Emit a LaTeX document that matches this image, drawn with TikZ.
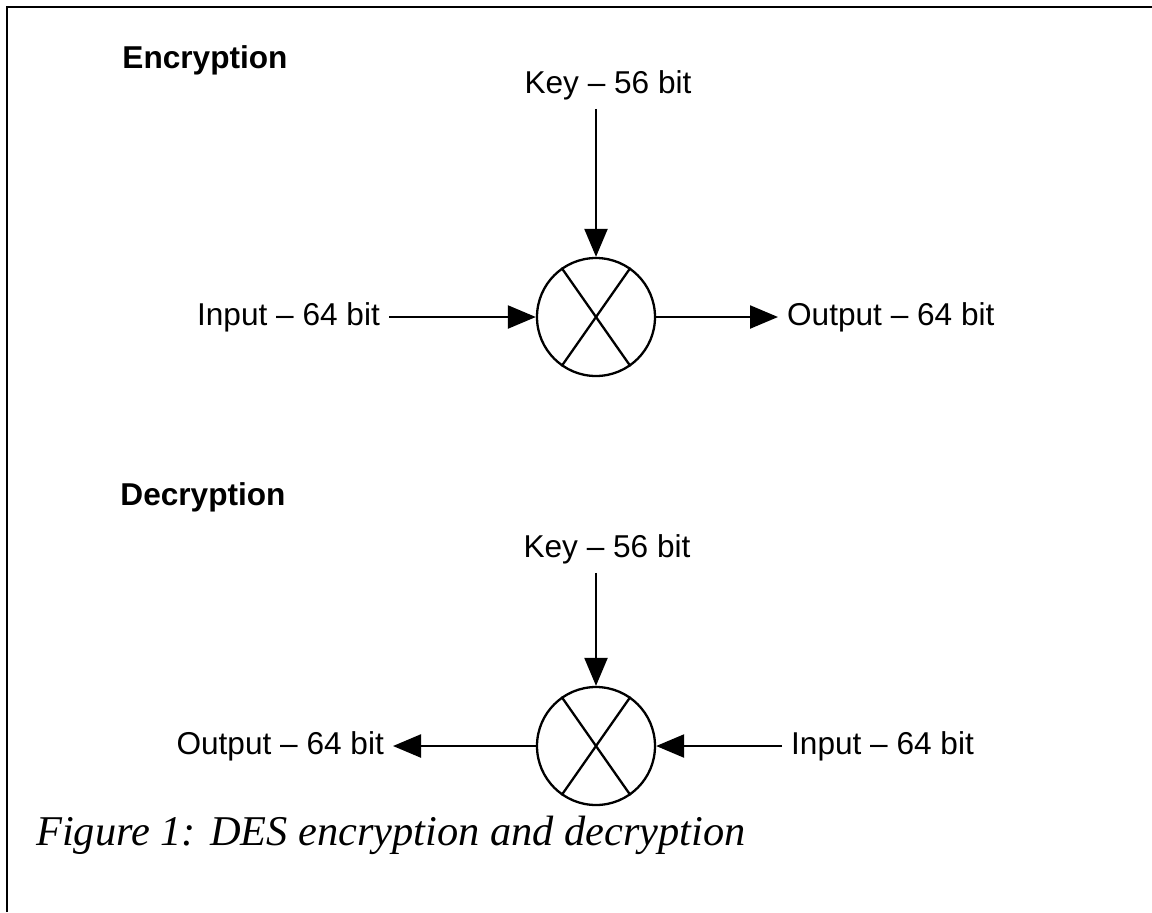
\documentclass[tikz,border=0pt]{standalone}
\usepackage{fontspec}
\setmainfont{Liberation Serif}
\setsansfont{Liberation Sans}
\usetikzlibrary{arrows.meta}
\newcommand\Rad{29.5pt}

\begin{document}
\begin{tikzpicture}[x=0.5pt,y=-0.5pt,->,>={Triangle[length=14pt,width=11.5pt]},
                    line width=1.15pt]

  \tikzstyle{every node}=[font=\sffamily\fontsize{15.8}{19}\selectfont,inner sep=4pt]
  \tikzstyle{mixer}=[circle,draw,minimum size=2*\Rad,inner sep=0pt]
  \tikzstyle{heading}=[font=\sffamily\bfseries\fontsize{15.8}{19}\selectfont]

  \useasboundingbox (0,0) rectangle (1152,912);
  \draw[-,line width=0.9pt] (7,912) -- (7,7) -- (1152,7);

  % encryption
  \node[heading]         (encT) at (205,60)  {Encryption};
  \node                  (keyE) at (608,85)  {Key -- 56 bit};
  \node[mixer]           (encX) at (596,317) {};
  \node[anchor=east]     (inE)  at (389,317) {Input -- 64 bit};
  \node[anchor=west]     (outE) at (778,317) {Output -- 64 bit};

  % decryption
  \node[heading]         (decT) at (203,497) {Decryption};
  \node                  (keyD) at (607,549) {Key -- 56 bit};
  \node[mixer]           (decX) at (596,746) {};
  \node[anchor=east]     (outD) at (393,746) {Output -- 64 bit};
  \node[anchor=west]     (inD)  at (782,746) {Input -- 64 bit};

  \node[anchor=base west,font=\rmfamily\itshape\fontsize{21.2}{25}\selectfont,inner sep=0pt]
       (cap) at (35,845) {Figure 1: DES encryption and decryption};

  \draw[-] (encX.125) -- (encX.-55) (encX.55) -- (encX.-125);
  \draw[-] (decX.125) -- (decX.-55) (decX.55) -- (decX.-125);

  \draw (keyE.south -| encX.north) -- (encX.north);
  \draw (inE.east) -- (encX.west);
  \draw (encX.east) -- (outE.west);

  \draw (keyD.south -| decX.north) -- (decX.north);
  \draw (inD.west) -- (decX.east);
  \draw (decX.west) -- (outD.east);
\end{tikzpicture}
\end{document}
